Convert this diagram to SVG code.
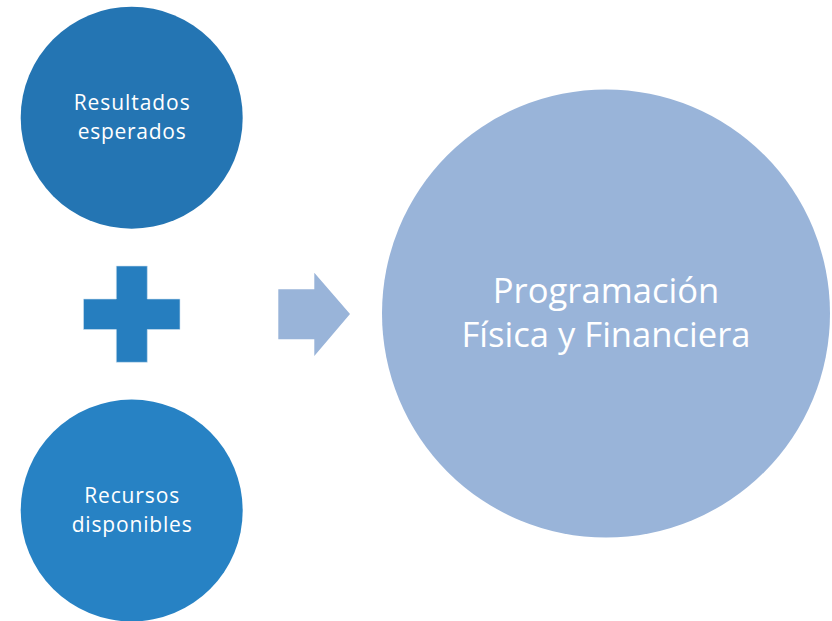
<svg xmlns="http://www.w3.org/2000/svg" width="832" height="621" viewBox="0 0 832 621">
<style>
.lbl{font-family:"Open Sans","Liberation Sans",sans-serif;fill:#ffffff;text-anchor:middle}
.sm{font-size:21px}
.lg{font-size:34.6px}
</style>
<rect width="832" height="621" fill="#ffffff"/>
<g id="node-resultados">
<circle cx="131.7" cy="117.7" r="111" fill="#2475B3"/>
<text class="lbl sm" x="131.7" y="110" textLength="116" lengthAdjust="spacing">Resultados</text>
<text class="lbl sm" x="131.7" y="139" textLength="108" lengthAdjust="spacing">esperados</text>
</g>
<g id="node-recursos">
<circle cx="131.7" cy="510.5" r="111" fill="#2782C4"/>
<text class="lbl sm" x="131.7" y="503" textLength="95" lengthAdjust="spacing">Recursos</text>
<text class="lbl sm" x="131.7" y="532" textLength="120" lengthAdjust="spacing">disponibles</text>
</g>
<g id="node-programacion">
<circle cx="606" cy="313.5" r="224" fill="#99B4D9"/>
<text class="lbl lg" x="606" y="303">Programación</text>
<text class="lbl lg" x="606" y="346.7">Física y Financiera</text>
</g>
<g id="connectors">
<path d="M116.3,266 H147.3 V299 H180 V329.5 H147.3 V362.3 H116.3 V329.5 H83.5 V299 H116.3 Z" fill="#267EBF" stroke="#cfe0f0" stroke-width="0.6"/>
<path d="M278.3,289.3 H314.3 V272.7 L350,314 L314.3,356 V339.3 H278.3 Z" fill="#99B4D9"/>
</g>
</svg>
